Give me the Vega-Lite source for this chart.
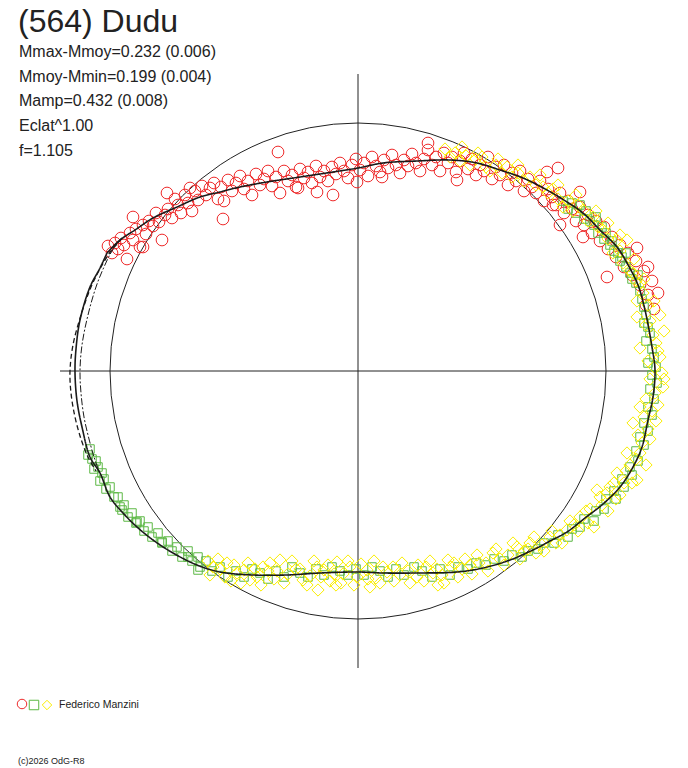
{
  "$schema": "https://vega.github.io/schema/vega-lite/v6.json",
  "width": 688,
  "height": 768,
  "autosize": {"type": "none"},
  "padding": 0,
  "background": "white",
  "config": {"view": {"stroke": null}},
  "datasets": {
    "axes": [
      {"x": -298, "x2": 298, "y": 0, "y2": 0},
      {"x": 0, "x2": 0, "y": 297, "y2": -297}
    ],
    "centre": [{"x": 0, "y": 0}],
    "fits": [
      {"curve": "fit", "o": 1, "x": -251, "y": 118}, {"curve": "fit", "o": 2, "x": -238, "y": 131},
      {"curve": "fit", "o": 3, "x": -223, "y": 141}, {"curve": "fit", "o": 4, "x": -205, "y": 153},
      {"curve": "fit", "o": 5, "x": -181, "y": 164}, {"curve": "fit", "o": 6, "x": -158, "y": 174},
      {"curve": "fit", "o": 7, "x": -138, "y": 179}, {"curve": "fit", "o": 8, "x": -118, "y": 184},
      {"curve": "fit", "o": 9, "x": -91, "y": 189}, {"curve": "fit", "o": 10, "x": -58, "y": 194},
      {"curve": "fit", "o": 11, "x": -25, "y": 199}, {"curve": "fit", "o": 12, "x": 0, "y": 203},
      {"curve": "fit", "o": 13, "x": 25, "y": 208}, {"curve": "fit", "o": 14, "x": 59, "y": 210},
      {"curve": "fit", "o": 15, "x": 92, "y": 211}, {"curve": "fit", "o": 16, "x": 119, "y": 208},
      {"curve": "fit", "o": 17, "x": 142, "y": 201}, {"curve": "fit", "o": 18, "x": 165, "y": 193},
      {"curve": "fit", "o": 19, "x": 189, "y": 181}, {"curve": "fit", "o": 20, "x": 209, "y": 169},
      {"curve": "fit", "o": 21, "x": 225, "y": 158}, {"curve": "fit", "o": 22, "x": 242, "y": 141},
      {"curve": "fit", "o": 23, "x": 259, "y": 124}, {"curve": "fit", "o": 24, "x": 269, "y": 108},
      {"curve": "fit", "o": 25, "x": 280, "y": 86}, {"curve": "fit", "o": 26, "x": 287, "y": 61},
      {"curve": "fit", "o": 27, "x": 294, "y": 24}, {"curve": "fit", "o": 28, "x": 297, "y": 1},
      {"curve": "fit", "o": 29, "x": 295, "y": -26}, {"curve": "fit", "o": 30, "x": 290, "y": -49},
      {"curve": "fit", "o": 31, "x": 284, "y": -76}, {"curve": "fit", "o": 32, "x": 275, "y": -96},
      {"curve": "fit", "o": 33, "x": 262, "y": -116}, {"curve": "fit", "o": 34, "x": 245, "y": -133},
      {"curve": "fit", "o": 35, "x": 227, "y": -147}, {"curve": "fit", "o": 36, "x": 209, "y": -161},
      {"curve": "fit", "o": 37, "x": 192, "y": -170}, {"curve": "fit", "o": 38, "x": 179, "y": -177},
      {"curve": "fit", "o": 39, "x": 152, "y": -189}, {"curve": "fit", "o": 40, "x": 125, "y": -197},
      {"curve": "fit", "o": 41, "x": 99, "y": -201}, {"curve": "fit", "o": 42, "x": 59, "y": -202},
      {"curve": "fit", "o": 43, "x": 25, "y": -202}, {"curve": "fit", "o": 44, "x": 0, "y": -201},
      {"curve": "fit", "o": 45, "x": -38, "y": -202}, {"curve": "fit", "o": 46, "x": -71, "y": -204},
      {"curve": "fit", "o": 47, "x": -105, "y": -204}, {"curve": "fit", "o": 48, "x": -138, "y": -201},
      {"curve": "fit", "o": 49, "x": -161, "y": -194}, {"curve": "fit", "o": 50, "x": -185, "y": -182},
      {"curve": "fit", "o": 51, "x": -205, "y": -169}, {"curve": "fit", "o": 52, "x": -221, "y": -156},
      {"curve": "fit", "o": 53, "x": -235, "y": -142}, {"curve": "fit", "o": 54, "x": -248, "y": -126},
      {"curve": "fit", "o": 55, "x": -258, "y": -102}, {"curve": "fit", "o": 56, "x": -268, "y": -86},
      {"curve": "fit", "o": 57, "x": -276, "y": -56}, {"curve": "fit", "o": 58, "x": -281, "y": -30},
      {"curve": "fit", "o": 59, "x": -283, "y": -1}, {"curve": "fit", "o": 60, "x": -282, "y": 22},
      {"curve": "fit", "o": 61, "x": -278, "y": 51}, {"curve": "fit", "o": 62, "x": -268, "y": 84},
      {"curve": "fit", "o": 63, "x": -258, "y": 103}, {"curve": "fit", "o": 64, "x": -251, "y": 118},
      {"curve": "outer", "o": 1, "x": -236, "y": 133}, {"curve": "outer", "o": 2, "x": -247, "y": 120},
      {"curve": "outer", "o": 3, "x": -257, "y": 104}, {"curve": "outer", "o": 4, "x": -267, "y": 84},
      {"curve": "outer", "o": 5, "x": -277, "y": 56}, {"curve": "outer", "o": 6, "x": -285, "y": 26},
      {"curve": "outer", "o": 7, "x": -288, "y": 0}, {"curve": "outer", "o": 8, "x": -287, "y": -22},
      {"curve": "outer", "o": 9, "x": -283, "y": -46}, {"curve": "outer", "o": 10, "x": -277, "y": -68},
      {"curve": "outer", "o": 11, "x": -270, "y": -86}, {"curve": "outer", "o": 12, "x": -262, "y": -100},
      {"curve": "inner", "o": 1, "x": -236, "y": 133}, {"curve": "inner", "o": 2, "x": -246, "y": 120},
      {"curve": "inner", "o": 3, "x": -254, "y": 104}, {"curve": "inner", "o": 4, "x": -262, "y": 84},
      {"curve": "inner", "o": 5, "x": -270, "y": 56}, {"curve": "inner", "o": 6, "x": -276, "y": 26},
      {"curve": "inner", "o": 7, "x": -278, "y": 0}, {"curve": "inner", "o": 8, "x": -277, "y": -22},
      {"curve": "inner", "o": 9, "x": -274, "y": -46}, {"curve": "inner", "o": 10, "x": -269, "y": -68},
      {"curve": "inner", "o": 11, "x": -264, "y": -86}, {"curve": "inner", "o": 12, "x": -259, "y": -100}
    ],
    "obs": [
      {"s":"S1","x":-250,"y":125},{"s":"S1","x":-246,"y":118},{"s":"S1","x":-243,"y":128},{"s":"S1","x":-240,"y":122},
      {"s":"S1","x":-237,"y":133},{"s":"S1","x":-234,"y":126},{"s":"S1","x":-231,"y":112},{"s":"S1","x":-228,"y":138},
      {"s":"S1","x":-225,"y":131},{"s":"S1","x":-222,"y":142},{"s":"S1","x":-218,"y":124},{"s":"S1","x":-215,"y":146},
      {"s":"S1","x":-212,"y":137},{"s":"S1","x":-209,"y":150},{"s":"S1","x":-205,"y":145},{"s":"S1","x":-202,"y":158},
      {"s":"S1","x":-199,"y":149},{"s":"S1","x":-196,"y":131},{"s":"S1","x":-193,"y":156},{"s":"S1","x":-190,"y":162},
      {"s":"S1","x":-186,"y":153},{"s":"S1","x":-183,"y":172},{"s":"S1","x":-180,"y":166},{"s":"S1","x":-177,"y":158},
      {"s":"S1","x":-173,"y":176},{"s":"S1","x":-170,"y":168},{"s":"S1","x":-166,"y":160},{"s":"S1","x":-163,"y":180},
      {"s":"S1","x":-160,"y":171},{"s":"S1","x":-156,"y":185},{"s":"S1","x":-152,"y":176},{"s":"S1","x":-148,"y":183},
      {"s":"S1","x":-144,"y":188},{"s":"S1","x":-140,"y":172},{"s":"S1","x":-137,"y":184},{"s":"S1","x":-134,"y":170},
      {"s":"S1","x":-130,"y":191},{"s":"S1","x":-126,"y":180},{"s":"S1","x":-122,"y":188},{"s":"S1","x":-118,"y":195},
      {"s":"S1","x":-114,"y":182},{"s":"S1","x":-110,"y":190},{"s":"S1","x":-106,"y":176},{"s":"S1","x":-102,"y":197},
      {"s":"S1","x":-98,"y":186},{"s":"S1","x":-94,"y":192},{"s":"S1","x":-90,"y":200},{"s":"S1","x":-86,"y":185},
      {"s":"S1","x":-82,"y":194},{"s":"S1","x":-78,"y":178},{"s":"S1","x":-74,"y":200},{"s":"S1","x":-70,"y":190},
      {"s":"S1","x":-66,"y":196},{"s":"S1","x":-62,"y":184},{"s":"S1","x":-58,"y":202},{"s":"S1","x":-54,"y":193},
      {"s":"S1","x":-50,"y":199},{"s":"S1","x":-46,"y":188},{"s":"S1","x":-42,"y":205},{"s":"S1","x":-38,"y":194},
      {"s":"S1","x":-34,"y":200},{"s":"S1","x":-30,"y":190},{"s":"S1","x":-26,"y":204},{"s":"S1","x":-22,"y":197},
      {"s":"S1","x":-18,"y":208},{"s":"S1","x":-14,"y":200},{"s":"S1","x":-10,"y":193},{"s":"S1","x":-6,"y":206},
      {"s":"S1","x":-2,"y":212},{"s":"S1","x":2,"y":201},{"s":"S1","x":6,"y":208},{"s":"S1","x":10,"y":195},
      {"s":"S1","x":14,"y":214},{"s":"S1","x":18,"y":205},{"s":"S1","x":22,"y":199},{"s":"S1","x":26,"y":211},
      {"s":"S1","x":30,"y":203},{"s":"S1","x":34,"y":216},{"s":"S1","x":38,"y":206},{"s":"S1","x":42,"y":198},
      {"s":"S1","x":46,"y":211},{"s":"S1","x":50,"y":205},{"s":"S1","x":54,"y":217},{"s":"S1","x":58,"y":208},
      {"s":"S1","x":62,"y":200},{"s":"S1","x":66,"y":212},{"s":"S1","x":70,"y":221},{"s":"S1","x":74,"y":206},
      {"s":"S1","x":78,"y":214},{"s":"S1","x":82,"y":200},{"s":"S1","x":86,"y":218},{"s":"S1","x":90,"y":208},
      {"s":"S1","x":94,"y":214},{"s":"S1","x":98,"y":199},{"s":"S1","x":102,"y":210},{"s":"S1","x":106,"y":218},
      {"s":"S1","x":110,"y":202},{"s":"S1","x":114,"y":212},{"s":"S1","x":118,"y":196},{"s":"S1","x":122,"y":206},
      {"s":"S1","x":126,"y":200},{"s":"S1","x":130,"y":214},{"s":"S1","x":134,"y":192},{"s":"S1","x":138,"y":204},
      {"s":"S1","x":142,"y":196},{"s":"S1","x":146,"y":206},{"s":"S1","x":150,"y":186},{"s":"S1","x":154,"y":198},
      {"s":"S1","x":158,"y":190},{"s":"S1","x":162,"y":200},{"s":"S1","x":166,"y":180},{"s":"S1","x":170,"y":192},
      {"s":"S1","x":174,"y":184},{"s":"S1","x":178,"y":178},{"s":"S1","x":182,"y":190},{"s":"S1","x":186,"y":170},
      {"s":"S1","x":190,"y":182},{"s":"S1","x":194,"y":174},{"s":"S1","x":198,"y":166},{"s":"S1","x":202,"y":178},
      {"s":"S1","x":206,"y":158},{"s":"S1","x":210,"y":170},{"s":"S1","x":214,"y":162},{"s":"S1","x":218,"y":150},
      {"s":"S1","x":222,"y":164},{"s":"S1","x":226,"y":146},{"s":"S1","x":230,"y":156},{"s":"S1","x":234,"y":138},
      {"s":"S1","x":238,"y":150},{"s":"S1","x":242,"y":130},{"s":"S1","x":246,"y":144},{"s":"S1","x":250,"y":122},
      {"s":"S1","x":254,"y":134},{"s":"S1","x":258,"y":114},{"s":"S1","x":262,"y":126},{"s":"S1","x":266,"y":104},
      {"s":"S1","x":270,"y":118},{"s":"S1","x":274,"y":96},{"s":"S1","x":278,"y":110},{"s":"S1","x":282,"y":86},
      {"s":"S1","x":286,"y":100},{"s":"S1","x":290,"y":76},{"s":"S1","x":294,"y":90},{"s":"S1","x":300,"y":78},
      {"s":"S1","x":288,"y":66},{"s":"S1","x":296,"y":62},{"s":"S1","x":-135,"y":152},{"s":"S1","x":-80,"y":219},
      {"s":"S1","x":-25,"y":176},{"s":"S1","x":-41,"y":179},{"s":"S1","x":-60,"y":183},{"s":"S1","x":24,"y":194},
      {"s":"S1","x":-1,"y":189},{"s":"S1","x":99,"y":191},{"s":"S1","x":70,"y":228},{"s":"S1","x":200,"y":203},
      {"s":"S1","x":202,"y":146},{"s":"S1","x":225,"y":134},{"s":"S1","x":249,"y":94},{"s":"S1","x":290,"y":104},
      {"s":"S1","x":279,"y":123},{"s":"S1","x":222,"y":179},{"s":"S1","x":189,"y":199},{"s":"S1","x":195,"y":166},
      {"s":"S1","x":-215,"y":124},{"s":"S1","x":-225,"y":154},{"s":"S1","x":-191,"y":178},{"s":"S1","x":-168,"y":183},

      {"s":"S2","x":205,"y":170},{"s":"S2","x":210,"y":162},{"s":"S2","x":214,"y":168},{"s":"S2","x":218,"y":158},
      {"s":"S2","x":222,"y":166},{"s":"S2","x":226,"y":152},{"s":"S2","x":228,"y":160},{"s":"S2","x":232,"y":150},
      {"s":"S2","x":236,"y":146},{"s":"S2","x":238,"y":154},{"s":"S2","x":240,"y":138},{"s":"S2","x":244,"y":144},
      {"s":"S2","x":246,"y":132},{"s":"S2","x":248,"y":138},{"s":"S2","x":252,"y":126},{"s":"S2","x":254,"y":130},
      {"s":"S2","x":256,"y":120},{"s":"S2","x":260,"y":118},{"s":"S2","x":262,"y":110},{"s":"S2","x":264,"y":114},
      {"s":"S2","x":268,"y":118},{"s":"S2","x":268,"y":104},{"s":"S2","x":272,"y":98},{"s":"S2","x":274,"y":92},
      {"s":"S2","x":278,"y":88},{"s":"S2","x":280,"y":96},{"s":"S2","x":282,"y":80},{"s":"S2","x":284,"y":72},
      {"s":"S2","x":286,"y":64},{"s":"S2","x":288,"y":56},{"s":"S2","x":286,"y":48},{"s":"S2","x":290,"y":44},
      {"s":"S2","x":292,"y":38},{"s":"S2","x":288,"y":30},{"s":"S2","x":294,"y":22},{"s":"S2","x":296,"y":14},
      {"s":"S2","x":290,"y":8},{"s":"S2","x":298,"y":4},{"s":"S2","x":294,"y":-4},{"s":"S2","x":299,"y":-12},
      {"s":"S2","x":292,"y":-18},{"s":"S2","x":296,"y":-28},{"s":"S2","x":290,"y":-36},{"s":"S2","x":294,"y":-44},
      {"s":"S2","x":286,"y":-52},{"s":"S2","x":290,"y":-60},{"s":"S2","x":282,"y":-66},{"s":"S2","x":286,"y":-74},
      {"s":"S2","x":278,"y":-80},{"s":"S2","x":280,"y":-90},{"s":"S2","x":272,"y":-96},{"s":"S2","x":274,"y":-104},
      {"s":"S2","x":264,"y":-108},{"s":"S2","x":266,"y":-116},{"s":"S2","x":256,"y":-120},{"s":"S2","x":258,"y":-128},
      {"s":"S2","x":248,"y":-128},{"s":"S2","x":246,"y":-138},{"s":"S2","x":238,"y":-140},{"s":"S2","x":236,"y":-150},
      {"s":"S2","x":226,"y":-148},{"s":"S2","x":222,"y":-156},{"s":"S2","x":214,"y":-158},{"s":"S2","x":210,"y":-166},
      {"s":"S2","x":200,"y":-164},{"s":"S2","x":196,"y":-172},{"s":"S2","x":186,"y":-172},{"s":"S2","x":180,"y":-178},
      {"s":"S2","x":170,"y":-180},{"s":"S2","x":164,"y":-186},{"s":"S2","x":154,"y":-184},{"s":"S2","x":146,"y":-190},
      {"s":"S2","x":136,"y":-188},{"s":"S2","x":128,"y":-194},{"s":"S2","x":118,"y":-192},{"s":"S2","x":110,"y":-198},
      {"s":"S2","x":100,"y":-196},{"s":"S2","x":92,"y":-204},{"s":"S2","x":82,"y":-198},{"s":"S2","x":74,"y":-206},
      {"s":"S2","x":64,"y":-200},{"s":"S2","x":56,"y":-196},{"s":"S2","x":46,"y":-204},{"s":"S2","x":38,"y":-198},
      {"s":"S2","x":30,"y":-206},{"s":"S2","x":22,"y":-200},{"s":"S2","x":14,"y":-196},{"s":"S2","x":6,"y":-204},
      {"s":"S2","x":-2,"y":-198},{"s":"S2","x":-10,"y":-204},{"s":"S2","x":-18,"y":-200},{"s":"S2","x":-26,"y":-196},
      {"s":"S2","x":-34,"y":-204},{"s":"S2","x":-42,"y":-198},{"s":"S2","x":-50,"y":-206},{"s":"S2","x":-58,"y":-202},
      {"s":"S2","x":-66,"y":-196},{"s":"S2","x":-74,"y":-206},{"s":"S2","x":-82,"y":-200},{"s":"S2","x":-90,"y":-208},
      {"s":"S2","x":-98,"y":-202},{"s":"S2","x":-106,"y":-198},{"s":"S2","x":-114,"y":-206},{"s":"S2","x":-122,"y":-200},
      {"s":"S2","x":-130,"y":-206},{"s":"S2","x":-138,"y":-196},{"s":"S2","x":-146,"y":-200},{"s":"S2","x":-152,"y":-190},
      {"s":"S2","x":-158,"y":-196},{"s":"S2","x":-160,"y":-186},{"s":"S2","x":-166,"y":-190},{"s":"S2","x":-170,"y":-180},
      {"s":"S2","x":-176,"y":-186},{"s":"S2","x":-181,"y":-176},{"s":"S2","x":-186,"y":-180},{"s":"S2","x":-190,"y":-170},
      {"s":"S2","x":-196,"y":-172},{"s":"S2","x":-200,"y":-162},{"s":"S2","x":-206,"y":-166},{"s":"S2","x":-210,"y":-156},
      {"s":"S2","x":-214,"y":-160},{"s":"S2","x":-218,"y":-150},{"s":"S2","x":-222,"y":-152},{"s":"S2","x":-226,"y":-142},
      {"s":"S2","x":-230,"y":-146},{"s":"S2","x":-234,"y":-134},{"s":"S2","x":-238,"y":-136},{"s":"S2","x":-240,"y":-126},
      {"s":"S2","x":-244,"y":-126},{"s":"S2","x":-248,"y":-116},{"s":"S2","x":-252,"y":-118},{"s":"S2","x":-254,"y":-108},
      {"s":"S2","x":-256,"y":-102},{"s":"S2","x":-260,"y":-96},{"s":"S2","x":-264,"y":-98},{"s":"S2","x":-266,"y":-88},
      {"s":"S2","x":-270,"y":-84},{"s":"S2","x":-268,"y":-78},{"s":"S2","x":-262,"y":-90},{"s":"S2","x":-258,"y":-110},
      {"s":"S2","x":-236,"y":-139},{"s":"S2","x":-221,"y":-151},{"s":"S2","x":-196,"y":-171},{"s":"S2","x":-170,"y":-186},
      {"s":"S2","x":-160,"y":-199},

      {"s":"S3","x":87,"y":222},{"s":"S3","x":92,"y":214},{"s":"S3","x":97,"y":218},{"s":"S3","x":102,"y":210},
      {"s":"S3","x":108,"y":215},{"s":"S3","x":112,"y":206},{"s":"S3","x":118,"y":212},{"s":"S3","x":124,"y":214},
      {"s":"S3","x":128,"y":204},{"s":"S3","x":132,"y":200},{"s":"S3","x":138,"y":206},{"s":"S3","x":144,"y":198},
      {"s":"S3","x":149,"y":204},{"s":"S3","x":154,"y":194},{"s":"S3","x":160,"y":198},{"s":"S3","x":166,"y":190},
      {"s":"S3","x":172,"y":194},{"s":"S3","x":178,"y":186},{"s":"S3","x":185,"y":184},{"s":"S3","x":190,"y":178},
      {"s":"S3","x":195,"y":182},{"s":"S3","x":200,"y":172},{"s":"S3","x":205,"y":164},{"s":"S3","x":210,"y":170},
      {"s":"S3","x":215,"y":160},{"s":"S3","x":220,"y":166},{"s":"S3","x":225,"y":161},{"s":"S3","x":230,"y":150},
      {"s":"S3","x":235,"y":154},{"s":"S3","x":240,"y":144},{"s":"S3","x":245,"y":141},{"s":"S3","x":250,"y":132},
      {"s":"S3","x":255,"y":118},{"s":"S3","x":259,"y":131},{"s":"S3","x":262,"y":120},{"s":"S3","x":265,"y":108},
      {"s":"S3","x":269,"y":131},{"s":"S3","x":272,"y":100},{"s":"S3","x":275,"y":98},{"s":"S3","x":278,"y":90},
      {"s":"S3","x":282,"y":88},{"s":"S3","x":285,"y":78},{"s":"S3","x":279,"y":70},{"s":"S3","x":290,"y":66},
      {"s":"S3","x":279,"y":54},{"s":"S3","x":302,"y":56},{"s":"S3","x":288,"y":46},{"s":"S3","x":295,"y":36},
      {"s":"S3","x":282,"y":23},{"s":"S3","x":298,"y":28},{"s":"S3","x":302,"y":14},{"s":"S3","x":290,"y":10},
      {"s":"S3","x":296,"y":4},{"s":"S3","x":304,"y":-2},{"s":"S3","x":292,"y":-8},{"s":"S3","x":305,"y":-16},
      {"s":"S3","x":297,"y":-22},{"s":"S3","x":288,"y":-28},{"s":"S3","x":282,"y":-36},{"s":"S3","x":294,"y":-40},
      {"s":"S3","x":286,"y":-46},{"s":"S3","x":275,"y":-52},{"s":"S3","x":290,"y":-58},{"s":"S3","x":280,"y":-64},
      {"s":"S3","x":284,"y":-72},{"s":"S3","x":269,"y":-82},{"s":"S3","x":278,"y":-88},{"s":"S3","x":272,"y":-94},
      {"s":"S3","x":259,"y":-102},{"s":"S3","x":279,"y":-109},{"s":"S3","x":266,"y":-112},{"s":"S3","x":252,"y":-116},
      {"s":"S3","x":249,"y":-122},{"s":"S3","x":258,"y":-128},{"s":"S3","x":239,"y":-119},{"s":"S3","x":244,"y":-134},
      {"s":"S3","x":232,"y":-138},{"s":"S3","x":222,"y":-146},{"s":"S3","x":230,"y":-152},{"s":"S3","x":216,"y":-154},
      {"s":"S3","x":209,"y":-159},{"s":"S3","x":202,"y":-164},{"s":"S3","x":192,"y":-166},{"s":"S3","x":198,"y":-172},
      {"s":"S3","x":184,"y":-174},{"s":"S3","x":172,"y":-172},{"s":"S3","x":178,"y":-182},{"s":"S3","x":166,"y":-180},
      {"s":"S3","x":159,"y":-176},{"s":"S3","x":150,"y":-184},{"s":"S3","x":142,"y":-188},{"s":"S3","x":135,"y":-182},
      {"s":"S3","x":128,"y":-192},{"s":"S3","x":119,"y":-184},{"s":"S3","x":112,"y":-194},{"s":"S3","x":104,"y":-198},
      {"s":"S3","x":96,"y":-192},{"s":"S3","x":90,"y":-189},{"s":"S3","x":84,"y":-204},{"s":"S3","x":75,"y":-202},
      {"s":"S3","x":68,"y":-196},{"s":"S3","x":59,"y":-206},{"s":"S3","x":50,"y":-200},{"s":"S3","x":42,"y":-204},
      {"s":"S3","x":35,"y":-196},{"s":"S3","x":25,"y":-196},{"s":"S3","x":18,"y":-207},{"s":"S3","x":9,"y":-199},
      {"s":"S3","x":-1,"y":-206},{"s":"S3","x":-8,"y":-196},{"s":"S3","x":-15,"y":-203},{"s":"S3","x":-21,"y":-191},
      {"s":"S3","x":-28,"y":-210},{"s":"S3","x":-34,"y":-199},{"s":"S3","x":-41,"y":-196},{"s":"S3","x":-48,"y":-205},
      {"s":"S3","x":-55,"y":-209},{"s":"S3","x":-62,"y":-198},{"s":"S3","x":-70,"y":-203},{"s":"S3","x":-78,"y":-189},
      {"s":"S3","x":-84,"y":-208},{"s":"S3","x":-90,"y":-200},{"s":"S3","x":-95,"y":-196},{"s":"S3","x":-101,"y":-206},
      {"s":"S3","x":-108,"y":-209},{"s":"S3","x":-114,"y":-199},{"s":"S3","x":-121,"y":-202},{"s":"S3","x":-127,"y":-210},
      {"s":"S3","x":-131,"y":-192},{"s":"S3","x":-138,"y":-198},{"s":"S3","x":-145,"y":-196},{"s":"S3","x":-150,"y":-190},
      {"s":"S3","x":-40,"y":-219},{"s":"S3","x":-22,"y":-214},{"s":"S3","x":12,"y":-216},{"s":"S3","x":80,"y":-214},
      {"s":"S3","x":-148,"y":-204},{"s":"S3","x":-140,"y":-188},{"s":"S3","x":-133,"y":-206},{"s":"S3","x":-124,"y":-194},
      {"s":"S3","x":-117,"y":-212},{"s":"S3","x":-110,"y":-192},{"s":"S3","x":-103,"y":-198},{"s":"S3","x":-97,"y":-214},
      {"s":"S3","x":-88,"y":-192},{"s":"S3","x":-81,"y":-200},{"s":"S3","x":-74,"y":-212},{"s":"S3","x":-66,"y":-190},
      {"s":"S3","x":-58,"y":-198},{"s":"S3","x":-51,"y":-214},{"s":"S3","x":-44,"y":-190},{"s":"S3","x":-37,"y":-206},
      {"s":"S3","x":-30,"y":-194},{"s":"S3","x":-24,"y":-203},{"s":"S3","x":-17,"y":-212},{"s":"S3","x":-10,"y":-190},
      {"s":"S3","x":-4,"y":-214},{"s":"S3","x":3,"y":-193},{"s":"S3","x":10,"y":-208},{"s":"S3","x":16,"y":-190},
      {"s":"S3","x":22,"y":-212},{"s":"S3","x":29,"y":-201},{"s":"S3","x":36,"y":-210},{"s":"S3","x":44,"y":-192},
      {"s":"S3","x":52,"y":-212},{"s":"S3","x":60,"y":-194},{"s":"S3","x":66,"y":-210},{"s":"S3","x":72,"y":-190},
      {"s":"S3","x":79,"y":-198},{"s":"S3","x":86,"y":-212},{"s":"S3","x":93,"y":-196},{"s":"S3","x":100,"y":-206},
      {"s":"S3","x":107,"y":-188},{"s":"S3","x":114,"y":-203},{"s":"S3","x":121,"y":-192},{"s":"S3","x":130,"y":-200},
      {"s":"S3","x":138,"y":-178},{"s":"S3","x":146,"y":-194},{"s":"S3","x":155,"y":-172},{"s":"S3","x":162,"y":-188},
      {"s":"S3","x":170,"y":-178},{"s":"S3","x":176,"y":-166},{"s":"S3","x":186,"y":-180},{"s":"S3","x":194,"y":-160},
      {"s":"S3","x":204,"y":-172},{"s":"S3","x":212,"y":-150},{"s":"S3","x":220,"y":-160},{"s":"S3","x":228,"y":-140},
      {"s":"S3","x":236,"y":-156},{"s":"S3","x":242,"y":-126},{"s":"S3","x":250,"y":-140},{"s":"S3","x":256,"y":-112},
      {"s":"S3","x":262,"y":-124},{"s":"S3","x":268,"y":-100},{"s":"S3","x":274,"y":-112},{"s":"S3","x":282,"y":-82},
      {"s":"S3","x":288,"y":-94},{"s":"S3","x":292,"y":-68},{"s":"S3","x":298,"y":-50},{"s":"S3","x":300,"y":-34},
      {"s":"S3","x":306,"y":-8},{"s":"S3","x":300,"y":20},{"s":"S3","x":306,"y":40},{"s":"S3","x":292,"y":50},
      {"s":"S3","x":296,"y":70},{"s":"S3","x":286,"y":92},{"s":"S3","x":276,"y":112},{"s":"S3","x":262,"y":136},
      {"s":"S3","x":250,"y":148},{"s":"S3","x":238,"y":160},{"s":"S3","x":218,"y":176},{"s":"S3","x":200,"y":186},
      {"s":"S3","x":182,"y":196},{"s":"S3","x":160,"y":206},{"s":"S3","x":140,"y":212},{"s":"S3","x":120,"y":218},
      {"s":"S3","x":104,"y":224}
    ],
    "key": [
      {"s": "S1", "x": -336, "y": -333},
      {"s": "S2", "x": -324, "y": -334},
      {"s": "S3", "x": -311, "y": -334}
    ],
    "notes": [
      {"kind": "title", "text": "(564) Dudu", "x": -340, "y": 339},
      {"kind": "info", "text": "Mmax-Mmoy=0.232 (0.006)", "x": -339, "y": 314},
      {"kind": "info", "text": "Mmoy-Mmin=0.199 (0.004)", "x": -339, "y": 289},
      {"kind": "info", "text": "Mamp=0.432 (0.008)", "x": -339, "y": 265},
      {"kind": "info", "text": "Eclat^1.00", "x": -339, "y": 240},
      {"kind": "info", "text": "f=1.105", "x": -339, "y": 215},
      {"kind": "credit", "text": "Federico Manzini", "x": -299, "y": -337},
      {"kind": "copy", "text": "(c)2026 OdG-R8", "x": -340, "y": -393}
    ]
  },
  "encoding": {
    "x": {"field": "x", "type": "quantitative", "scale": {"domain": [-358, 330], "nice": false, "zero": false}, "axis": null},
    "y": {"field": "y", "type": "quantitative", "scale": {"domain": [-397, 371], "nice": false, "zero": false}, "axis": null}
  },
  "layer": [
    {
      "data": {"name": "axes"},
      "mark": {"type": "rule", "color": "#222222", "strokeWidth": 1},
      "encoding": {
        "x2": {"field": "x2"},
        "y2": {"field": "y2"}
      }
    },
    {
      "data": {"name": "centre"},
      "mark": {"type": "point", "shape": "circle", "filled": false, "size": 246016, "stroke": "#222222", "strokeWidth": 1, "opacity": 1}
    },
    {
      "data": {"name": "obs"},
      "transform": [{"filter": "datum.s === 'S1'"}],
      "mark": {"type": "point", "shape": "circle", "filled": false, "stroke": "#ee2a2a", "strokeWidth": 1, "opacity": 1, "size": 137}
    },
    {
      "data": {"name": "obs"},
      "transform": [{"filter": "datum.s === 'S2'"}],
      "mark": {"type": "point", "shape": "square", "filled": false, "stroke": "#5cb845", "strokeWidth": 1, "opacity": 1, "size": 72}
    },
    {
      "data": {"name": "obs"},
      "transform": [{"filter": "datum.s === 'S3'"}],
      "mark": {"type": "point", "shape": "diamond", "filled": false, "stroke": "#fbee00", "strokeWidth": 1, "opacity": 1, "size": 150}
    },
    {
      "data": {"name": "fits"},
      "mark": {"type": "line", "color": "#1a1a1a", "interpolate": "catmull-rom"},
      "encoding": {
        "order": {"field": "o", "type": "quantitative"},
        "detail": {"field": "curve", "type": "nominal"},
        "strokeDash": {"field": "curve", "type": "nominal", "scale": {"domain": ["fit", "outer", "inner"], "range": [[1, 0], [5, 3], [7, 2, 2, 2]]}, "legend": null},
        "strokeWidth": {"field": "curve", "type": "nominal", "scale": {"domain": ["fit", "outer", "inner"], "range": [1.6, 1, 1]}, "legend": null}
      }
    },
    {
      "data": {"name": "key"},
      "mark": {"type": "point", "filled": false, "strokeWidth": 1, "opacity": 1, "size": 90},
      "encoding": {
        "color": {"field": "s", "type": "nominal", "scale": {"domain": ["S1", "S2", "S3"], "range": ["#ee2a2a", "#5cb845", "#fbee00"]}, "legend": null},
        "shape": {"field": "s", "type": "nominal", "scale": {"domain": ["S1", "S2", "S3"], "range": ["circle", "square", "diamond"]}, "legend": null}
      }
    },
    {
      "data": {"name": "notes"},
      "transform": [{"filter": "datum.kind === 'title'"}],
      "mark": {"type": "text", "align": "left", "baseline": "alphabetic", "font": "Liberation Sans", "fontSize": 32, "color": "#222222"},
      "encoding": {"text": {"field": "text"}}
    },
    {
      "data": {"name": "notes"},
      "transform": [{"filter": "datum.kind === 'info'"}],
      "mark": {"type": "text", "align": "left", "baseline": "alphabetic", "font": "Liberation Sans", "fontSize": 16, "color": "#222222"},
      "encoding": {"text": {"field": "text"}}
    },
    {
      "data": {"name": "notes"},
      "transform": [{"filter": "datum.kind === 'credit'"}],
      "mark": {"type": "text", "align": "left", "baseline": "alphabetic", "font": "Liberation Sans", "fontSize": 10.5, "color": "#222222"},
      "encoding": {"text": {"field": "text"}}
    },
    {
      "data": {"name": "notes"},
      "transform": [{"filter": "datum.kind === 'copy'"}],
      "mark": {"type": "text", "align": "left", "baseline": "alphabetic", "font": "Liberation Sans", "fontSize": 9, "color": "#222222"},
      "encoding": {"text": {"field": "text"}}
    }
  ]
}
